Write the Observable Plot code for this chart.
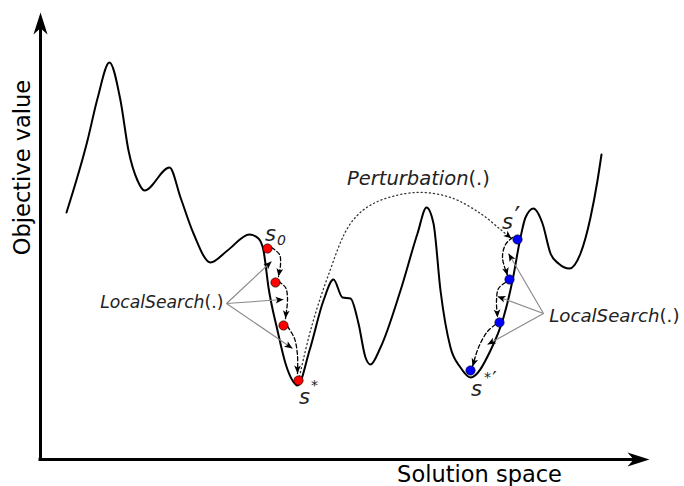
<!DOCTYPE html>
<html><head><meta charset="utf-8">
<script src="https://cdn.jsdelivr.net/npm/d3@7"></script>
<script src="https://cdn.jsdelivr.net/npm/@observablehq/plot@0.6"></script>
<style>html,body{margin:0;padding:0;background:#fff;} #chart svg{display:block;}</style>
</head><body><div id="chart"></div>
<script>
// Fitness landscape: solution (s) vs objective value (v)
const curveS = [26,47,57,69,80,88,97,104,129,140,153,170,187,209,218,223,228,237,245,252,257,269,283,293,302,310,318,325,330,340,360,377,386,393,400,410,420,430,450,463,472,480,485,493,502,510,518,529,540,550,557,561];
const curveV = [247,319,361,397,359,309,279,269,292,262,226,197,209,225,221,209,172,129,96,79,74,109,159,180,162,161,136,102,95,112,169,226,252,236,169,112,92,82,109,142,179,222,242,251,236,206,196,191,206,242,279,305];

// Local search steps (first basin, red) and (second basin, blue)
const redS = [227,235,243,258];
const redV = [211,177,134,79];
const blueS = [477,469,459,430];
const blueV = [220,180,137,89];

// Dashed local-search moves
const arcS = [[231,239,240,238],[238,245,247,245],[247,254,257,257],[472,465,462,467],[465,458,456,457],[455,447,438,432]];
const arcV = [[212,205,195,183],[178,172,161,141],[133,121,104,86],[222,215,202,184],[177,171,159,142],[135,128,112,93]];

// Dotted perturbation jump
const pertS = [259,270,287,310,333,375,410,440,460,471];
const pertV = [83,129,182,236,256,267,262,246,230,221];

// LocalSearch(.) pointers
const pointerFromS = [186,186,186,503,503,503];
const pointerFromV = [156,156,156,146,146,146];
const pointerToS = [231,243,252,468,457,447];
const pointerToV = [198,160,111,206,163,115];

// axis extents (origin at 0,0)
const axisEndS = 609, axisEndV = 447;

const font = "DejaVu Sans, sans-serif";

function stealth(halfW, notch) {
  return {draw(ctx, size) {
    const L = Math.sqrt(size / Math.PI);
    ctx.moveTo(0, 0);
    ctx.lineTo(-halfW * L, L);
    ctx.lineTo(0, notch * L);
    ctx.lineTo(halfW * L, L);
    ctx.closePath();
  }};
}
const bigHead = stealth(0.32, 0.72);
const smallHead = stealth(0.42, 0.75);
const angle = (ds, dv) => Math.atan2(ds, dv) * 180 / Math.PI;

const curve = curveS.map((s, i) => ({s, v: curveV[i]}));
const red = redS.map((s, i) => ({s, v: redV[i]}));
const blue = blueS.map((s, i) => ({s, v: blueV[i]}));
const arcs = arcS.flatMap((ss, k) => ss.map((s, i) => ({k, s, v: arcV[k][i]})));
const arcHeads = arcS.map((ss, k) => {
  const n = ss.length;
  return {s: ss[n-1], v: arcV[k][n-1], a: angle(ss[n-1]-ss[n-2], arcV[k][n-1]-arcV[k][n-2])};
});
const pert = pertS.map((s, i) => ({s, v: pertV[i]}));
const n = pertS.length;
const pertHead = [{s: pertS[n-1], v: pertV[n-1], a: angle(pertS[n-1]-pertS[n-2], pertV[n-1]-pertV[n-2])}];
const pointers = pointerFromS.map((s, i) => ({s1: s, v1: pointerFromV[i], s2: pointerToS[i], v2: pointerToV[i],
  a: angle(pointerToS[i]-s, pointerToV[i]-pointerFromV[i])}));
const axisHeads = [{s: axisEndS, v: 0, a: 90}, {s: 0, v: axisEndV, a: 0}];

const chart = Plot.plot({
  width: 684, height: 486, margin: 0,
  x: {domain: [-40, 644], range: [0, 684], axis: null},
  y: {domain: [-27, 459], range: [486, 0], axis: null},
  style: {fontFamily: font, background: "#fff"},
  marks: [
    Plot.ruleY([0], {x1: -1.5, x2: axisEndS - 14, stroke: "black", strokeWidth: 3}),
    Plot.ruleX([0], {y1: -1.5, y2: axisEndV - 14, stroke: "black", strokeWidth: 3}),
    Plot.dot(axisHeads, {x: "s", y: "v", rotate: "a", symbol: bigHead, r: 22, fill: "black", stroke: null}),
    Plot.line(curve, {x: "s", y: "v", curve: "monotone-x", stroke: "black", strokeWidth: 2}),
    Plot.line(pert, {x: "s", y: "v", curve: "catmull-rom", stroke: "#333", strokeWidth: 1.3, strokeDasharray: "1.1,3"}),
    Plot.dot(pertHead, {x: "s", y: "v", rotate: "a", symbol: smallHead, r: 8, fill: "black", stroke: null}),
    Plot.line(arcs, {x: "s", y: "v", z: "k", curve: "catmull-rom", stroke: "black", strokeWidth: 1.3, strokeDasharray: "4,2.5"}),
    Plot.dot(arcHeads, {x: "s", y: "v", rotate: "a", symbol: smallHead, r: 8, fill: "black", stroke: null}),
    Plot.link(pointers, {x1: "s1", y1: "v1", x2: "s2", y2: "v2", stroke: "#888", strokeWidth: 1.1}),
    Plot.dot(pointers, {x: "s2", y: "v2", rotate: "a", symbol: smallHead, r: 8, fill: "black", stroke: null}),
    Plot.dot(red, {x: "s", y: "v", r: 4.6, fill: "#ff0000", stroke: "#300", strokeWidth: 0.8}),
    Plot.dot(blue, {x: "s", y: "v", r: 4.6, fill: "#0000ff", stroke: "#003", strokeWidth: 0.8}),
    // axis titles
    Plot.text(["Objective value"], {x: [-18], y: [292], text: d => d, rotate: -90, fontSize: 22.5, fill: "black"}),
    Plot.text(["Solution space"], {x: [439], y: [-15], text: d => d, fontSize: 22.5, fill: "black"}),
    // operator labels
    Plot.text(["Perturbation"], {x: [428], y: [281], text: d => d, textAnchor: "end", fontSize: 19.5, fontStyle: "italic", fill: "#222"}),
    Plot.text(["(.)"], {x: [428], y: [281], text: d => d, textAnchor: "start", fontSize: 19.5, fill: "#222"}),
    Plot.text(["LocalSearch"], {x: [164], y: [157], text: d => d, textAnchor: "end", fontSize: 17.2, fontStyle: "italic", fill: "#222"}),
    Plot.text(["(.)"], {x: [164], y: [157], text: d => d, textAnchor: "start", fontSize: 17.2, fill: "#222"}),
    Plot.text(["LocalSearch"], {x: [619], y: [143], text: d => d, textAnchor: "end", fontSize: 18.2, fontStyle: "italic", fill: "#222"}),
    Plot.text(["(.)"], {x: [619], y: [143], text: d => d, textAnchor: "start", fontSize: 18.2, fill: "#222"}),
    // solution labels
    Plot.text(["s"], {x: [230], y: [225], text: d => d, fontSize: 21, fontStyle: "italic", fill: "#222"}),
    Plot.text(["0"], {x: [241], y: [219], text: d => d, fontSize: 14, fontStyle: "italic", fill: "#222"}),
    Plot.text(["s"], {x: [264], y: [62], text: d => d, fontSize: 21, fontStyle: "italic", fill: "#222"}),
    Plot.text(["*"], {x: [274], y: [74], text: d => d, fontSize: 14, fill: "#222"}),
    Plot.text(["s"], {x: [467], y: [237], text: d => d, fontSize: 21, fontStyle: "italic", fill: "#222"}),
    Plot.text(["′"], {x: [477], y: [242], text: d => d, fontSize: 26, fill: "#222"}),
    Plot.text(["s"], {x: [436], y: [70], text: d => d, fontSize: 21, fontStyle: "italic", fill: "#222"}),
    Plot.text(["*"], {x: [447], y: [82], text: d => d, fontSize: 14, fill: "#222"}),
    Plot.text(["′"], {x: [454], y: [81], text: d => d, fontSize: 20, fill: "#222"})
  ]
});
document.getElementById("chart").append(chart);
</script>
</body></html>
